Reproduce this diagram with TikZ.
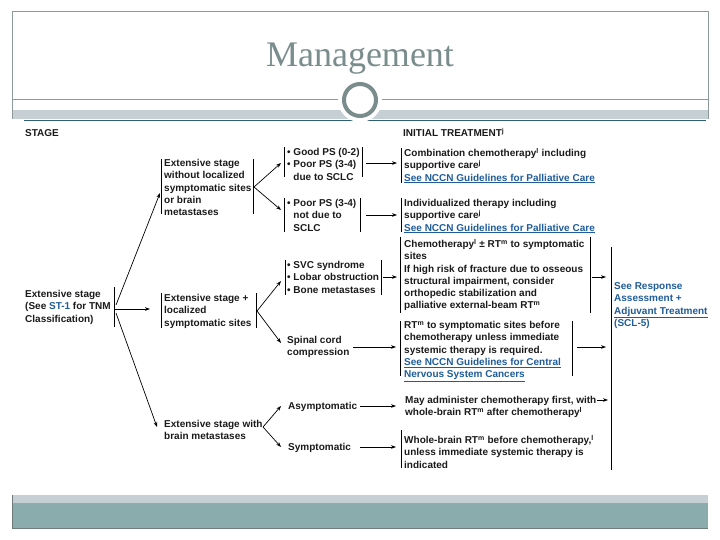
\documentclass[tikz,border=0pt]{standalone}
\usepackage{fontspec}
\setmainfont{Liberation Sans}
\newfontfamily\titlefont{Liberation Serif}
\usetikzlibrary{arrows.meta}
\definecolor{framec}{HTML}{8C9A9A}
\definecolor{titlec}{HTML}{7A8C8C}
\definecolor{bandgray}{HTML}{C6D0D4}
\definecolor{bandteal}{HTML}{8AACAC}
\definecolor{tealline}{HTML}{2F6070}
\definecolor{linkblue}{HTML}{1F5C99}
\definecolor{txtc}{HTML}{1A1A1A}
\newcommand\fc{\fontsize{10bp}{12.2bp}\selectfont\bfseries}
\newcommand\lnk[1]{{\color{linkblue}\underline{#1}}}
\newcommand\sps[1]{\smash{\textsuperscript{#1}}}
\tikzset{
 txt/.style={anchor=north west, inner sep=0pt, align=left, font=\fc, text=txtc},
 bar/.style={line width=0.9bp, draw=black},
 arr/.style={line width=0.7bp, draw=black, -{Stealth[length=5bp,width=3.6bp]}},
}
\begin{document}
\begin{tikzpicture}[x=1bp,y=-1bp]
\useasboundingbox (0,0) rectangle (720,540);
% header decoration
\fill[bandgray] (12,110) rectangle (708,119);
\draw[framec, line width=1bp] (12,119) -- (12,12) -- (708,12) -- (708,119);
\draw[framec, line width=1bp] (12,100) -- (708,100);
\draw[tealline, line width=1.2bp] (24,120.5) -- (706,120.5);
\fill[white] (360,100) circle (22);
\draw[titlec, line width=4bp, fill=white] (360,100) circle (16);
\node[font=\titlefont\fontsize{36bp}{40bp}\selectfont, text=titlec, anchor=base, inner sep=0pt] (title) at (360,67) {Management};
% footer decoration
\fill[bandgray] (12,495) rectangle (708,503);
\fill[bandteal] (12,503) rectangle (708,528);
\draw[framec!80!black, line width=1bp] (12,495) -- (12,528) -- (708,528);

% texts
\node[txt] (stage) at (25,128) {\strut STAGE};
\node[txt] (init) at (403,128) {\strut INITIAL TREATMENT\sps{j}};
\node[txt] (es) at (25,289) {\strut Extensive stage\\(See {\color{linkblue}ST-1} for TNM\\Classification)};
\node[txt] (eswo) at (164,158) {\strut Extensive stage\\without localized\\symptomatic sites\\or brain\\metastases};
\node[txt] (esloc) at (164,293) {\strut Extensive stage +\\localized\\symptomatic sites};
\node[txt] (esbr) at (164,419) {\strut Extensive stage with\\brain metastases};
\node[txt] (ps1) at (287,147) {\strut • Good PS (0-2)\\• Poor PS (3-4)\\\phantom{• }due to SCLC};
\node[txt] (ps2) at (287,198) {\strut • Poor PS (3-4)\\\phantom{• }not due to\\\phantom{• }SCLC};
\node[txt] (t1) at (404,148) {\strut Combination chemotherapy\sps{l} including\\supportive care\sps{j}\\\lnk{See NCCN Guidelines for Palliative Care}};
\node[txt] (t2) at (404,198) {\strut Individualized therapy including\\supportive care\sps{j}\\\lnk{See NCCN Guidelines for Palliative Care}};
\node[txt] (sym) at (287,260) {\strut • SVC syndrome\\• Lobar obstruction\\• Bone metastases};
\node[txt] (t3) at (404,239) {\strut Chemotherapy\sps{l} ± RT\sps{m} to symptomatic\\sites\\If high risk of fracture due to osseous\\structural impairment, consider\\orthopedic stabilization and\\palliative external-beam RT\sps{m}};
\node[txt] (spinal) at (287,335) {\strut Spinal cord\\compression};
\node[txt] (t4) at (404,320) {\strut RT\sps{m} to symptomatic sites before\\chemotherapy unless immediate\\systemic therapy is required.\\\lnk{See NCCN Guidelines for Central}\\\lnk{Nervous System Cancers}};
\node[txt] (asym) at (288,401) {\strut Asymptomatic};
\node[txt] (symp) at (288,442) {\strut Symptomatic};
\node[txt] (t5) at (405,395) {\strut May administer chemotherapy first, with\\whole-brain RT\sps{m} after chemotherapy\sps{l}};
\node[txt] (t6) at (404,435) {\strut Whole-brain RT\sps{m} before chemotherapy,\sps{l}\\unless immediate systemic therapy is\\indicated};
\node[txt, text=linkblue] (resp) at (614,281) {\strut See Response\\Assessment +\\\underline{Adjuvant Treatment}\\(SCL-5)};

% bars
\draw[bar] (114,287) -- (114,327);
\draw[bar] (161,159) -- (161,214);
\draw[bar] (253,159) -- (253,214);
\draw[bar] (161,293) -- (161,328);
\draw[bar] (256,293) -- (256,328);
\draw[bar] (284,147) -- (284,177);
\draw[bar] (362,147) -- (362,177);
\draw[bar] (284,198) -- (284,232);
\draw[bar] (360,198) -- (360,232);
\draw[bar] (285,260) -- (285,295);
\draw[bar] (381,260) -- (381,295);
\draw[bar] (401,148) -- (401,183);
\draw[bar] (401,198) -- (401,232);
\draw[bar] (400,237) -- (400,313);
\draw[bar] (590,237) -- (590,313);
\draw[bar] (400,321) -- (400,376);
\draw[bar] (572,321) -- (572,376);
\draw[bar] (401,430) -- (401,468);
\draw[bar] (611,247) -- (611,470);

% connector end points
\coordinate (a1s) at (116,305); \coordinate (a1e) at (160,193);
\coordinate (a2s) at (114,309); \coordinate (a2e) at (150,309);
\coordinate (a3s) at (116,313); \coordinate (a3e) at (157,427);
\coordinate (b1s) at (254,187); \coordinate (b1e) at (281,163); \coordinate (b2e) at (281,210);
\coordinate (c1s) at (366,163); \coordinate (c1e) at (397,163);
\coordinate (c2s) at (366,215); \coordinate (c2e) at (397,215);
\coordinate (d1s) at (257,311); \coordinate (d1e) at (281,281); \coordinate (d2e) at (281,343);
\coordinate (e1s) at (383,277); \coordinate (e1e) at (397,277);
\coordinate (e2s) at (353,347); \coordinate (e2e) at (396,347);
\coordinate (f1s) at (592,277); \coordinate (f1e) at (606,277);
\coordinate (f2s) at (577,347); \coordinate (f2e) at (606,347);
\coordinate (g1s) at (263,427); \coordinate (g1e) at (281,406); \coordinate (g2e) at (281,447);
\coordinate (h1s) at (360,406); \coordinate (h1e) at (396,406);
\coordinate (h2s) at (360,447); \coordinate (h2e) at (396,447);
\coordinate (i1s) at (597,400); \coordinate (i1e) at (608,400);

\draw[arr] (a1s) -- (a1e);
\draw[arr] (a2s) -- (a2e);
\draw[arr] (a3s) -- (a3e);
\draw[arr] (b1s) -- (b1e);
\draw[arr] (b1s) -- (b2e);
\draw[arr] (c1s) -- (c1e);
\draw[arr] (c2s) -- (c2e);
\draw[arr] (d1s) -- (d1e);
\draw[arr] (d1s) -- (d2e);
\draw[arr] (e1s) -- (e1e);
\draw[arr] (e2s) -- (e2e);
\draw[arr] (f1s) -- (f1e);
\draw[arr] (f2s) -- (f2e);
\draw[arr] (g1s) -- (g1e);
\draw[arr] (g1s) -- (g2e);
\draw[arr] (h1s) -- (h1e);
\draw[arr] (h2s) -- (h2e);
\draw[arr] (i1s) -- (i1e);
\end{tikzpicture}
\end{document}
